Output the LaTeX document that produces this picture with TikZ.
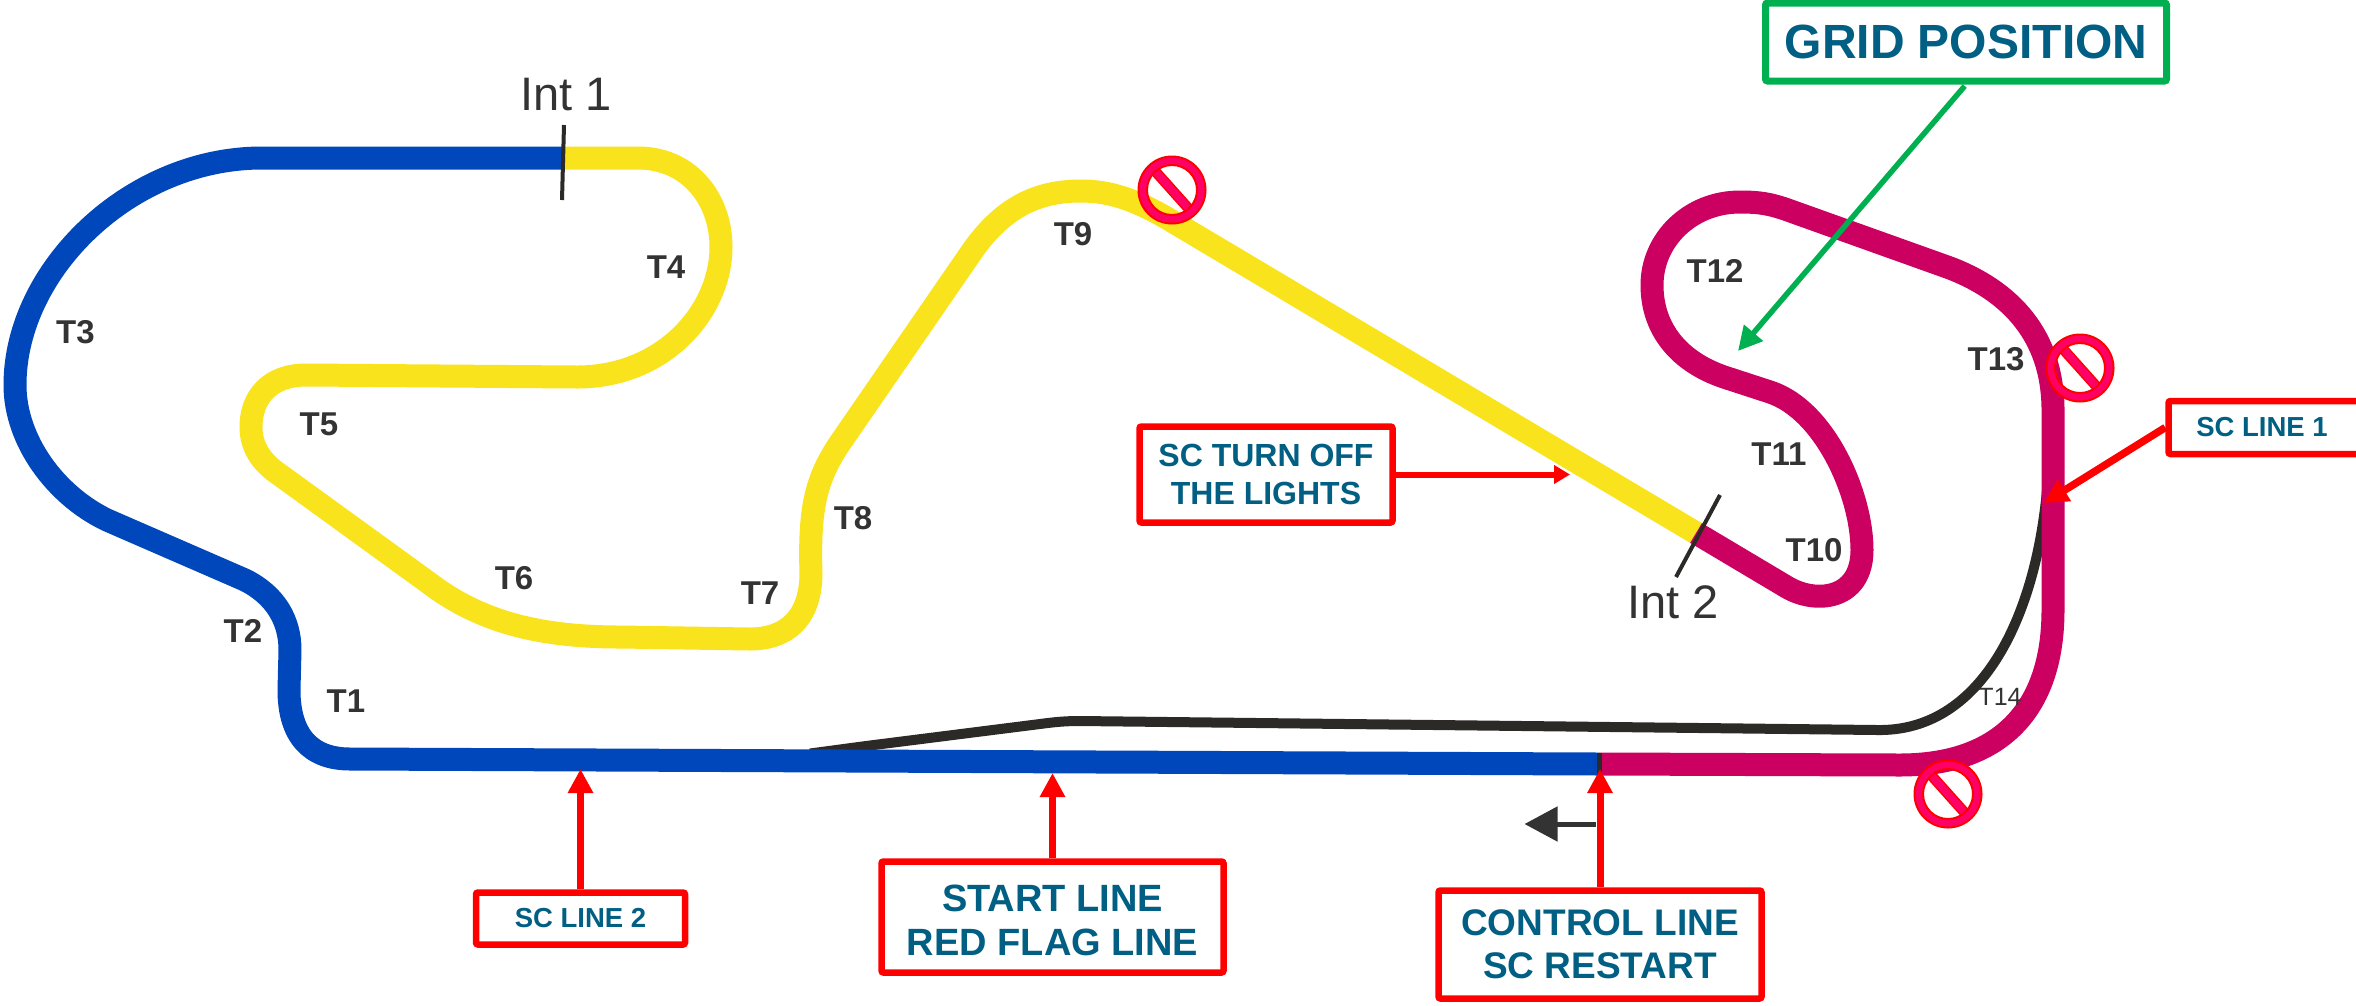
\documentclass[tikz,border=0pt]{standalone}
\usepackage{fontspec}
\setmainfont{Liberation Sans}
\usetikzlibrary{arrows.meta}
\definecolor{trackblue}{HTML}{0047BB}
\definecolor{trackyellow}{HTML}{F9E31C}
\definecolor{trackmag}{HTML}{CC0060}
\definecolor{pitblack}{HTML}{2B2A26}
\definecolor{boxtext}{HTML}{005F83}
\definecolor{signpink}{HTML}{FF0066}
\definecolor{gridgreen}{HTML}{00B050}
\definecolor{labelgrey}{HTML}{333333}
\newcommand{\dropline}[1]{\raisebox{-3pt}[\height][\depth]{#1}}
\tikzset{
  trackline/.style={line width=23pt,line cap=butt,line join=round},
  pitline/.style={line width=10pt,color=pitblack,line join=round},
  ticklineb/.style={line width=4pt,color=pitblack},
  redbox/.style={draw=red,line width=6.5pt,fill=white,rounded corners=2pt,inner sep=0pt,align=center,text=boxtext},
  greenbox/.style={draw=gridgreen,line width=7pt,fill=white,rounded corners=2pt,inner sep=0pt,align=center,text=boxtext},
  redarrow/.style={draw=red,line width=7pt,-{Triangle[length=24pt,width=24pt]}},
  turnlabel/.style={text=labelgrey,inner sep=0pt,font=\fontsize{33}{36}\bfseries\selectfont},
  intlabel/.style={text=labelgrey,inner sep=0pt,font=\fontsize{47}{50}\selectfont},
  pics/noentry/.style={code={
    \draw[red,line width=10.5pt] (-17,-19) -- (17,19);
    \draw[signpink,line width=7.5pt] (-17,-19) -- (17,19);
    \fill[signpink,draw=red,line width=2pt,even odd rule] (0,0) circle (33.5) (0,0) circle (25);
  }}
}
\begin{document}
\begin{tikzpicture}[x=1pt,y=-1pt]
\useasboundingbox (0,0) rectangle (2356,1005);
% pit lane
\draw[pitline] (810,753.5) -- (866,746) -- (1040,724) .. controls (1055,722) and (1065,721) .. (1080,721) -- (1877,730) .. controls (1980,732) and (2035,620) .. (2047,490);
% sector 1
\draw[trackline,trackblue] (564,158) -- (262,158) .. controls (130,158) and (15,270) .. (15,385) .. controls (15,440) and (55,495) .. (107,520) -- (245,580) .. controls (275,595) and (290,620) .. (290,650) -- (289,690) .. controls (289,735) and (310,759) .. (350,759) -- (1599,764);
% sector 2
\draw[trackline,trackyellow] (564,158) -- (638,158) .. controls (690,158) and (721,200) .. (721,247) .. controls (721,310) and (665,377) .. (577,377) -- (306,375) .. controls (270,375) and (251,397) .. (251,427) .. controls (251,450) and (265,465) .. (280,475) -- (429,583) .. controls (480,622) and (540,637) .. (620,637) -- (750,639) .. controls (785,639) and (810,620) .. (811,575) .. controls (809,510) and (815,480) .. (840,443) -- (973,250) .. controls (1005,205) and (1040,191) .. (1081,191) .. controls (1110,191) and (1135,200) .. (1165,217) -- (1696,533);
% sector 3
\draw[trackline,trackmag] (1696,533) -- (1785,586) .. controls (1815,605) and (1862,600) .. (1862,550) .. controls (1862,495) and (1825,410) .. (1770,392) -- (1724,377) .. controls (1680,362) and (1652,330) .. (1652,285) .. controls (1652,240) and (1690,202) .. (1740,202) .. controls (1760,202) and (1770,204) .. (1785,209) -- (1950,268) .. controls (2020,295) and (2053,345) .. (2053,410) -- (2053,610) .. controls (2053,710) and (2000,765) .. (1900,765) -- (1599,764);
% sector ticks
\coordinate (i1a) at (564,125); \coordinate (i1b) at (562,200);
\coordinate (i2a) at (1720,495); \coordinate (i2b) at (1676,577);
\coordinate (cla) at (1599,753); \coordinate (clb) at (1599,775);
\draw[ticklineb] (i1a) -- (i1b);
\draw[ticklineb] (i2a) -- (i2b);
\draw[ticklineb,line width=5pt] (cla) -- (clb);
% no-entry signs
\pic at (1172,190) {noentry};
\pic at (2080,368) {noentry};
\pic at (1948,794) {noentry};
% labels
\node[intlabel] (int1) at (566,95) {Int 1};
\node[intlabel] (int2) at (1673,602) {Int 2};
\node[turnlabel] (t1) at (346,701) {T1};
\node[turnlabel] (t2) at (243,631) {T2};
\node[turnlabel] (t3) at (75.5,332) {T3};
\node[turnlabel] (t4) at (666,267) {T4};
\node[turnlabel] (t5) at (319,424) {T5};
\node[turnlabel] (t6) at (514,578) {T6};
\node[turnlabel] (t7) at (760,593) {T7};
\node[turnlabel] (t8) at (853,518) {T8};
\node[turnlabel] (t9) at (1073,234) {T9};
\node[turnlabel] (t10) at (1814,550) {T10};
\node[turnlabel] (t11) at (1779,454) {T11};
\node[turnlabel] (t12) at (1715,271) {T12};
\node[turnlabel] (t13) at (1996,359) {T13};
\node[turnlabel,font=\fontsize{25}{28}\selectfont] (t14) at (2000,697) {T14};
% boxes
\node[greenbox,minimum width=401pt,minimum height=78pt,font=\fontsize{48}{52}\bfseries\selectfont] (grid) at (1966,42) {GRID POSITION};
\node[redbox,minimum width=253pt,minimum height=96pt,font=\fontsize{32}{38}\bfseries\selectfont] (turn) at (1266,474.5) {SC TURN OFF\\THE LIGHTS};
\node[redbox,minimum width=210pt,minimum height=53pt,font=\fontsize{27.5}{30}\bfseries\selectfont] (line1) at (2273.5,427.5) {\hspace*{-23pt}SC LINE 1};
\node[redbox,minimum width=209pt,minimum height=52pt,font=\fontsize{27.5}{30}\bfseries\selectfont] (line2) at (580.5,918.5) {SC LINE 2};
\node[redbox,minimum width=342pt,minimum height=111pt,font=\fontsize{38}{44}\bfseries\selectfont] (start) at (1052.5,917) {\dropline{START LINE}\\\dropline{RED FLAG LINE}};
\node[redbox,minimum width=323pt,minimum height=108pt,font=\fontsize{37}{43}\bfseries\selectfont] (control) at (1600,944.5) {CONTROL LINE\\SC RESTART};
% arrow ends
\coordinate (gridtip) at (1738,351);
\coordinate (turntip) at (1570,474.5);
\coordinate (line1tip) at (2044,503);
\coordinate (line2tip) at (580.5,769);
\coordinate (starttip) at (1052.5,773);
\coordinate (controltip) at (1600,769);
\coordinate (backa) at (1596,824);
\coordinate (backb) at (1524.5,824);
% connectors
\draw[draw=gridgreen,line width=5.5pt,-{Triangle[length=24pt,width=24pt]},shorten <=2pt] (grid.south) -- (gridtip);
\draw[draw=red,line width=6pt,-{Triangle[length=16pt,width=18pt]}] (turn.east) -- (turntip);
\draw[redarrow,line width=7.5pt] (line1.west) -- (line1tip);
\draw[redarrow] (line2.north) -- (line2tip);
\draw[redarrow] (start.north) -- (starttip);
\draw[redarrow] (control.north) -- (controltip);
\draw[draw=labelgrey,line width=5pt,-{Triangle[length=33pt,width=34pt]}] (backa) -- (backb);
\end{tikzpicture}
\end{document}
